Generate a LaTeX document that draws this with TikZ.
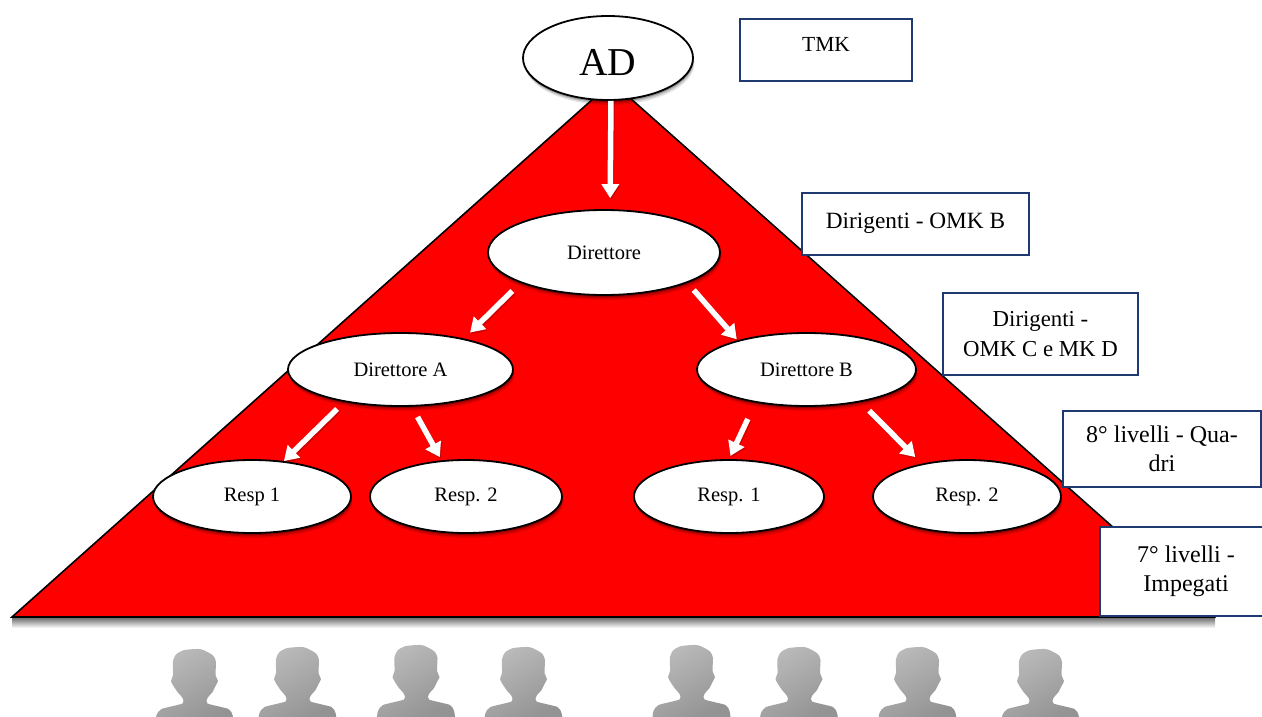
\documentclass[tikz,border=0pt]{standalone}
\usepackage{fontspec}
\setmainfont{Liberation Serif}
\usetikzlibrary{shapes.geometric,arrows.meta,shadows}
\definecolor{navy}{HTML}{1F3A70}
\definecolor{tired}{HTML}{FF0000}
\definecolor{persL}{HTML}{BABABA}
\definecolor{persR}{HTML}{939393}
\newcommand{\shiftup}[2]{\raisebox{#1}[.7em][0pt]{#2}}
\tikzset{
  x=1pt,y=-1pt,
  softshadow/.style={
    general shadow={fill=black,opacity=.10,shadow xshift=1.5pt,shadow yshift=-5pt},
    general shadow={fill=black,opacity=.15,shadow xshift=1pt,shadow yshift=-3.5pt},
    general shadow={fill=black,opacity=.25,shadow xshift=.5pt,shadow yshift=-2pt}},
  org/.style={ellipse,draw=black,line width=1.8pt,fill=white,inner sep=0pt,align=center,softshadow,
    font=\fontsize{20.5}{24}\selectfont},
  tag/.style={rectangle,draw=navy,line width=1.8pt,fill=white,inner sep=0pt,align=center,
    font=\fontsize{22.8}{29.5}\selectfont},
  link/.style={draw=white,line width=5.5pt,-{Triangle[width=17pt,length=14pt]}},
  linkshadow/.style={draw=black,opacity=.2,line width=5.5pt,-{Triangle[width=17pt,length=14pt]},
    transform canvas={xshift=1pt,yshift=-1.5pt}},
  person/.pic={
    \path[left color=persL,right color=persR,shading angle=30]
      plot[smooth,tension=.4] coordinates{(-39,72)(-38,66)(-33,60)(-12,54.5)(-12,49)(-17,43)(-21,37)(-23.5,32)(-21.5,26)(-21.5,12)(-18,5)(-10,1)(5,0)(13,3)(19,7)(21.5,13)(21,26)(23.5,32)(21,37)(18,43)(13,49)(13,54.5)(34,60)(38,66)(39,72)} -- cycle;
  }
}
\begin{document}
\begin{tikzpicture}
\useasboundingbox (0,0) rectangle (1262,717);
% base shadow and pyramid
\path[top color=black!55,bottom color=white] (12,618) rectangle (1215,628);
\coordinate (apex) at (612,82);
\coordinate (baseL) at (12,617);
\coordinate (baseR) at (1214,617);
\draw[fill=tired,draw=black,line width=1.6pt,line join=miter] (apex) -- (baseL) -- (baseR) -- cycle;
% people
\foreach \n/\px/\py in {p1/194.5/649,p2/297.5/647,p3/416/645,p4/523.5/647,p5/691.5/645,p6/799/647,p7/917.5/647,p8/1040.5/649}
  \pic (\n) at (\px,\py) {person};
% hierarchy
\node[org,minimum width=170pt,minimum height=84pt,font=\fontsize{39.5}{44}\selectfont] (ad) at (608,58) {\shiftup{-4pt}{AD}};
\node[org,minimum width=232pt,minimum height=85pt] (dir) at (604,252.5) {Direttore};
\node[org,minimum width=225pt,minimum height=73pt] (da) at (400.5,369.5) {Direttore A};
\node[org,minimum width=219pt,minimum height=73pt] (db) at (806.5,369.5) {Direttore B};
\node[org,minimum width=198pt,minimum height=73pt] (r1a) at (252,496.5) {Resp 1};
\node[org,minimum width=192pt,minimum height=73pt] (r2a) at (466,496.5) {Resp. 2};
\node[org,minimum width=190pt,minimum height=73pt] (r1b) at (729,496.5) {Resp. 1};
\node[org,minimum width=188pt,minimum height=73pt] (r2b) at (967,496.5) {Resp. 2};
% connectors
\foreach \a/\aa/\sa/\b/\ba/\sb in {
  ad/-86/0/dir/82.5/11,
  dir/-160.6/11.5/da/26.4/8.5,
  dir/-20.7/9.5/db/157.4/1.3,
  da/-150.8/10/r1a/48/0,
  da/-73/11.7/r2a/124.4/3.6,
  db/-147.7/18/r1b/90.8/3.5,
  db/-31.6/12/r2b/144.8/9.2}{
  \draw[linkshadow,shorten <=\sa pt,shorten >=\sb pt] (\a.\aa) -- (\b.\ba);
  \draw[link,shorten <=\sa pt,shorten >=\sb pt] (\a.\aa) -- (\b.\ba);
}
% level labels
\node[tag,minimum width=172pt,minimum height=62pt,font=\fontsize{21.5}{29}\selectfont] (t1) at (826,50) {\shiftup{6pt}{TMK}};
\node[tag,minimum width=227pt,minimum height=62pt,font=\fontsize{23.3}{29}\selectfont] (t2) at (915.5,224) {\shiftup{4pt}{Dirigenti - OMK B}};
\node[tag,minimum width=195pt,minimum height=82pt] (t3) at (1040.5,334) {Dirigenti -\\OMK C e MK D};
\node[tag,minimum width=198pt,minimum height=76pt,font=\fontsize{24}{29.5}\selectfont] (t4) at (1162,449) {8° livelli - Qua-\\dri};
\node[tag,minimum width=172pt,minimum height=89pt,font=\fontsize{24}{29.5}\selectfont] (t5) at (1186,571.5) {7° livelli -\\Impegati};
\end{tikzpicture}
\end{document}
